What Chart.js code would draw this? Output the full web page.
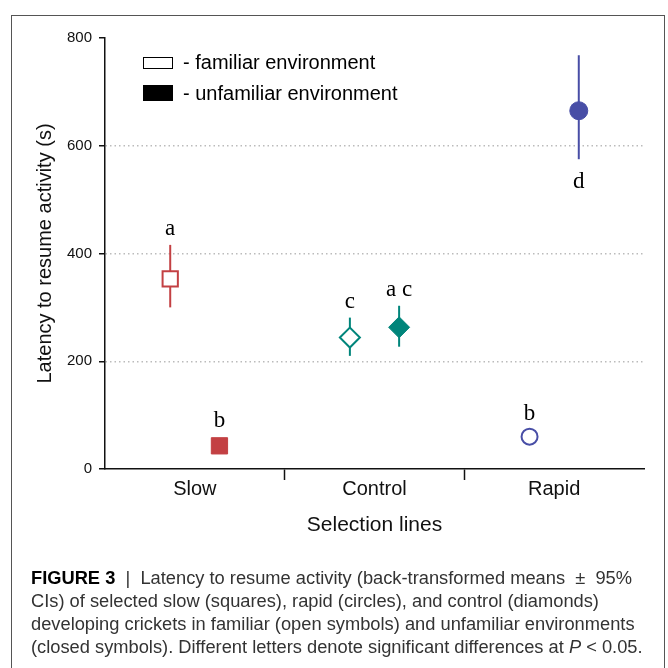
<!DOCTYPE html>
<html>
<head>
<meta charset="utf-8">
<script src="https://cdn.jsdelivr.net/npm/chart.js@4/dist/chart.umd.min.js"></script>
<style>
  body { margin: 0; background: #fff; width: 668px; height: 668px; overflow: hidden; position: relative; font-family: "Liberation Sans", Arial, sans-serif; }
  #chart { position: absolute; left: 0; top: 0; }
  .frame { position: absolute; left: 11px; top: 15px; width: 652px; height: 700px; border: 1px solid #555; pointer-events: none; }
  .box { position: absolute; box-sizing: border-box; }
  .lgtext { position: absolute; font-size: 20px; line-height: 22px; color: #000; white-space: nowrap; }
  .caption { position: absolute; left: 31px; top: 566px; font-size: 18.3px; line-height: 23px; color: #333; white-space: nowrap; }
  .caption b { color: #000; }
</style>
</head>
<body>
<canvas id="chart" width="668" height="560"></canvas>
<div class="frame"></div>

<div class="box" style="left:143px;top:57px;width:30px;height:12px;border:1.5px solid #000;"></div>
<div class="lgtext" style="left:183px;top:51px;">- familiar environment</div>
<div class="box" style="left:143px;top:85px;width:30px;height:16px;background:#000;"></div>
<div class="lgtext" style="left:183px;top:82px;">- unfamiliar environment</div>

<div class="caption">
  <div><b>FIGURE 3</b>&nbsp; |&nbsp; Latency to resume activity (back-transformed means &nbsp;±&nbsp; 95%</div>
  <div>CIs) of selected slow (squares), rapid (circles), and control (diamonds)</div>
  <div>developing crickets in familiar (open symbols) and unfamiliar environments</div>
  <div>(closed symbols). Different letters denote significant differences at <i>P</i> &lt; 0.05.</div>
</div>

<script>
// selection lines on the x axis
const lines = ['Slow', 'Control', 'Rapid'];
const lineColors = ['#c34043', '#00857b', '#484ea6'];
const lineShapes = ['rect', 'rectRot', 'circle'];

// familiar environment (open symbols), back-transformed means and 95% CI
const familiarMean = [353, 244, 60];
const familiarLow = [300, 210, 52];
const familiarHigh = [416, 281, 68];
const familiarLetters = ['a', 'c', 'b'];

// unfamiliar environment (closed symbols)
const unfamiliarMean = [43, 263, 665];
const unfamiliarLow = [36, 227, 575];
const unfamiliarHigh = [50, 303, 768];
const unfamiliarLetters = ['b', 'a c', 'd'];

const yTicks = [0, 200, 400, 600, 800];

const shift = 0.137;

// error bars drawn under the markers, so open symbols hide them
const errorBars = {
    id: 'errorBars',
    beforeDatasetsDraw(chart) {
        const ctx = chart.ctx;
        const y = chart.scales.y;
        chart.data.datasets.forEach((ds, di) => {
            const meta = chart.getDatasetMeta(di);
            meta.data.forEach((pt, i) => {
                ctx.save();
                ctx.strokeStyle = lineColors[i];
                ctx.lineWidth = 2;
                ctx.beginPath();
                ctx.moveTo(pt.x, y.getPixelForValue(ds.low[i]));
                ctx.lineTo(pt.x, y.getPixelForValue(ds.high[i]));
                ctx.stroke();
                ctx.restore();
            });
        });
    }
};

// significance letters
const letters = {
    id: 'letters',
    afterDatasetsDraw(chart) {
        const ctx = chart.ctx;
        const y = chart.scales.y;
        ctx.save();
        ctx.font = '23px "Liberation Serif", "Times New Roman", serif';
        ctx.fillStyle = '#000';
        ctx.textAlign = 'center';
        ctx.textBaseline = 'middle';
        chart.data.datasets.forEach((ds, di) => {
            const meta = chart.getDatasetMeta(di);
            meta.data.forEach((pt, i) => {
                const r = ds.pointRadius[i] * 0.8;
                const top = Math.min(y.getPixelForValue(ds.high[i]), pt.y - r);
                const bottom = Math.max(y.getPixelForValue(ds.low[i]), pt.y + r);
                if (top < chart.chartArea.top + 40) {
                    ctx.fillText(ds.letters[i], pt.x, bottom + 23);
                } else {
                    ctx.fillText(ds.letters[i], pt.x, top - 16);
                }
            });
        });
        ctx.restore();
    }
};

new Chart(document.getElementById('chart'), {
    type: 'scatter',
    data: {
        datasets: [{
            label: 'familiar environment',
            data: lines.map((l, i) => ({ x: i + 0.5 - shift, y: familiarMean[i] })),
            low: familiarLow,
            high: familiarHigh,
            letters: familiarLetters,
            pointStyle: lineShapes,
            pointRadius: [10.8, 10, 8],
            backgroundColor: '#fff',
            borderColor: lineColors,
            borderWidth: 2
        }, {
            label: 'unfamiliar environment',
            data: lines.map((l, i) => ({ x: i + 0.5 + shift, y: unfamiliarMean[i] })),
            low: unfamiliarLow,
            high: unfamiliarHigh,
            letters: unfamiliarLetters,
            pointStyle: lineShapes,
            pointRadius: [11.5, 10.5, 9],
            backgroundColor: lineColors,
            borderColor: lineColors,
            borderWidth: 1
        }]
    },
    options: {
        responsive: false,
        animation: false,
        layout: { padding: { left: 0, top: 38, right: 24, bottom: 0 } },
        plugins: {
            legend: { display: false },
            tooltip: { enabled: false }
        },
        scales: {
            x: {
                type: 'linear',
                min: 0,
                max: 3,
                afterBuildTicks: axis => {
                    axis.ticks = [0.5, 1, 1.5, 2, 2.5].map(v => ({ value: v }));
                },
                afterFit: axis => { axis.height = 91; },
                ticks: {
                    autoSkip: false,
                    maxRotation: 0,
                    padding: -3,
                    color: '#111',
                    font: { family: '"Liberation Sans", Arial, sans-serif', size: 20 },
                    callback: v => Number.isInteger(v) ? '' : lines[Math.floor(v)]
                },
                grid: {
                    drawOnChartArea: false,
                    tickLength: 11,
                    tickWidth: 1.5,
                    tickColor: c => Number.isInteger(c.tick.value) ? '#111' : 'rgba(0,0,0,0)'
                },
                border: { color: '#111', width: 1.5 },
                title: {
                    display: true,
                    text: 'Selection lines',
                    color: '#111',
                    font: { family: '"Liberation Sans", Arial, sans-serif', size: 21 },
                    padding: { top: 0, bottom: 22 }
                }
            },
            y: {
                min: 0,
                max: 800,
                afterBuildTicks: axis => {
                    axis.ticks = yTicks.map(v => ({ value: v }));
                },
                afterFit: axis => { axis.width = 105; },
                ticks: {
                    padding: 7,
                    color: '#111',
                    font: { family: '"Liberation Sans", Arial, sans-serif', size: 15 }
                },
                grid: {
                    color: c => (c.tick && (c.tick.value === 0 || c.tick.value === 800)) ? 'rgba(0,0,0,0)' : '#bbb',
                    lineWidth: 1.5,
                    tickLength: 6,
                    tickWidth: 1.5,
                    tickColor: '#111'
                },
                border: { color: '#111', width: 1.5, dash: [1.5, 3] },
                title: {
                    display: true,
                    text: 'Latency to resume activity (s)',
                    color: '#111',
                    font: { family: '"Liberation Sans", Arial, sans-serif', size: 20 },
                    padding: { top: 33, bottom: 0 }
                }
            }
        }
    },
    plugins: [errorBars, letters]
});
</script>
</body>
</html>
